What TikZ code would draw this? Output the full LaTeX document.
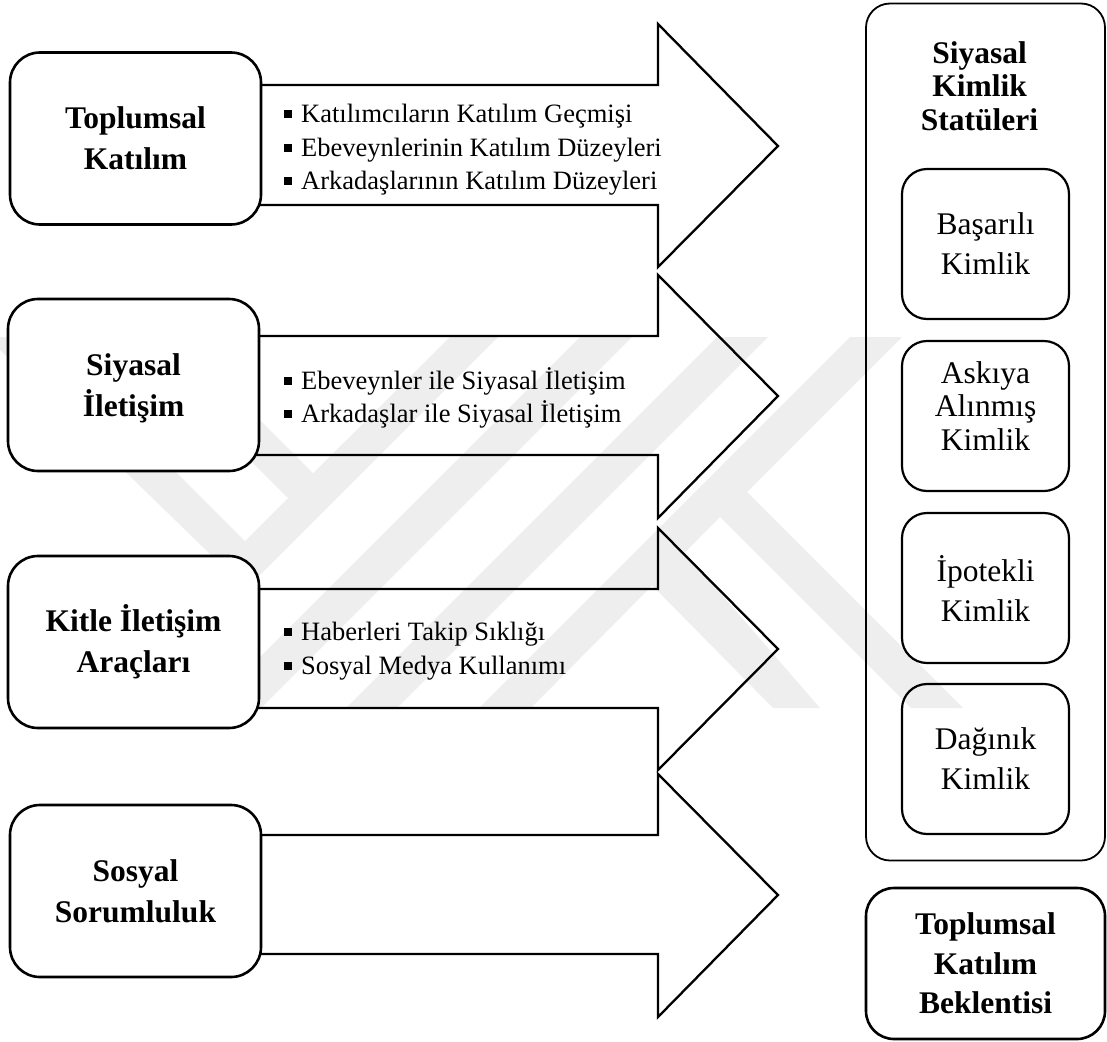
\documentclass[tikz,border=0pt]{standalone}
\usepackage{fontspec}
\setmainfont{Liberation Serif}
\usetikzlibrary{positioning}
\colorlet{penColor}{black}
\definecolor{markColor}{HTML}{EEEEEE}
\newcommand{\bulletsq}{\rule[4.5pt]{8pt}{8pt}\hspace{9pt}}
\tikzset{
  leftbox/.style={draw=penColor,line width=2.6pt,fill=white,rounded corners=30pt,align=center,
    minimum width=251pt,minimum height=172pt,font=\fontsize{31.5}{41}\selectfont\bfseries},
  statusbox/.style={draw=penColor,line width=2.2pt,rounded corners=25pt,align=center,
    minimum width=167pt,minimum height=150pt,font=\fontsize{31.5}{40}\selectfont},
  panelbox/.style={draw=penColor,line width=1.8pt,rounded corners=24pt,minimum width=239pt,minimum height=857pt},
  arrowline/.style={draw=penColor,line width=2.3pt,line join=miter},
  itemlist/.style={anchor=west,align=left,inner sep=0pt,font=\fontsize{26.5}{33.5}\selectfont},
  markband/.style={fill=markColor,draw=none}
}
\begin{document}
\begin{tikzpicture}[x=1pt,y=-1pt]
\useasboundingbox (0,0) rectangle (1107,1041);
\fill[markband] (0,350) -- (0,337) -- (41,337) -- (245,541) -- (450,337) -- (498,337) -- (246,589) -- cycle;
\fill[markband] (127,337) -- (177,337) -- (337,497) -- (287,497) -- cycle;
\fill[markband] (580,337) -- (632,337) -- (261,708) -- (209,708) -- cycle;
\fill[markband] (717,337) -- (768,337) -- (397,708) -- (346,708) -- cycle;
\fill[markband] (850,337) -- (902,337) -- (747,492) -- (963,708) -- (911,708) -- (720,517) -- (531,708) -- (479,708) -- cycle;
\fill[markband] (683,550) -- (820,708) -- (773,708) -- (627,560) -- cycle;
\foreach \shafttop/\shaftbot/\headtop/\headbot/\tipy in {85/205/24/267/146,336/455/275/518/396,589/708/528/770/649,835/954/774/1017/895}
  \draw[arrowline] (250,\shafttop) -- (658,\shafttop) -- (658,\headtop) -- (778,\tipy) -- (658,\headbot) -- (658,\shaftbot) -- (250,\shaftbot);
\node[leftbox] (toplumsal) at (135.5,138.5) {Toplumsal\\Katılım};
\node[leftbox,text depth=0pt] (iletisim) at (133.5,385) {Siyasal\\İletişim};
\node[leftbox] (kitle) at (133.5,642) {Kitle İletişim\\Araçları};
\node[leftbox] (sorumluluk) at (135.5,891) {Sosyal\\Sorumluluk};
\node[itemlist] (listKatilim) at (284,150) {\bulletsq Katılımcıların Katılım Geçmişi\\\bulletsq Ebeveynlerinin Katılım Düzeyleri\\\bulletsq Arkadaşlarının Katılım Düzeyleri};
\node[itemlist] (listIletisim) at (284,398) {\bulletsq Ebeveynler ile Siyasal İletişim\\\bulletsq Arkadaşlar ile Siyasal İletişim};
\node[itemlist] (listKitle) at (284,651) {\bulletsq Haberleri Takip Sıklığı\\\bulletsq Sosyal Medya Kullanımı};
\node[panelbox] (panel) at (985.5,432) {};
\node[align=center,font=\fontsize{31.5}{33.5}\selectfont\bfseries] (statuTitle) at (979.5,86) {Siyasal\\Kimlik\\Statüleri};
\node[statusbox] (basarili) at (985.5,244) {Başarılı\\Kimlik};
\node[statusbox,text depth=20pt,font=\fontsize{31.5}{33.5}\selectfont] (askiya) at (985.5,416) {Askıya\\Alınmış\\Kimlik};
\node[statusbox] (ipotekli) at (985.5,588) {İpotekli\\Kimlik};
\node[statusbox] (daginik) at (985.5,759) {Dağınık\\Kimlik};
\node[draw=penColor,line width=2.6pt,rounded corners=28pt,align=center,minimum width=239pt,minimum height=151pt,
  font=\fontsize{31.5}{39.5}\selectfont\bfseries] (beklenti) at (985.5,963.5) {Toplumsal\\Katılım\\Beklentisi};
\end{tikzpicture}
\end{document}
